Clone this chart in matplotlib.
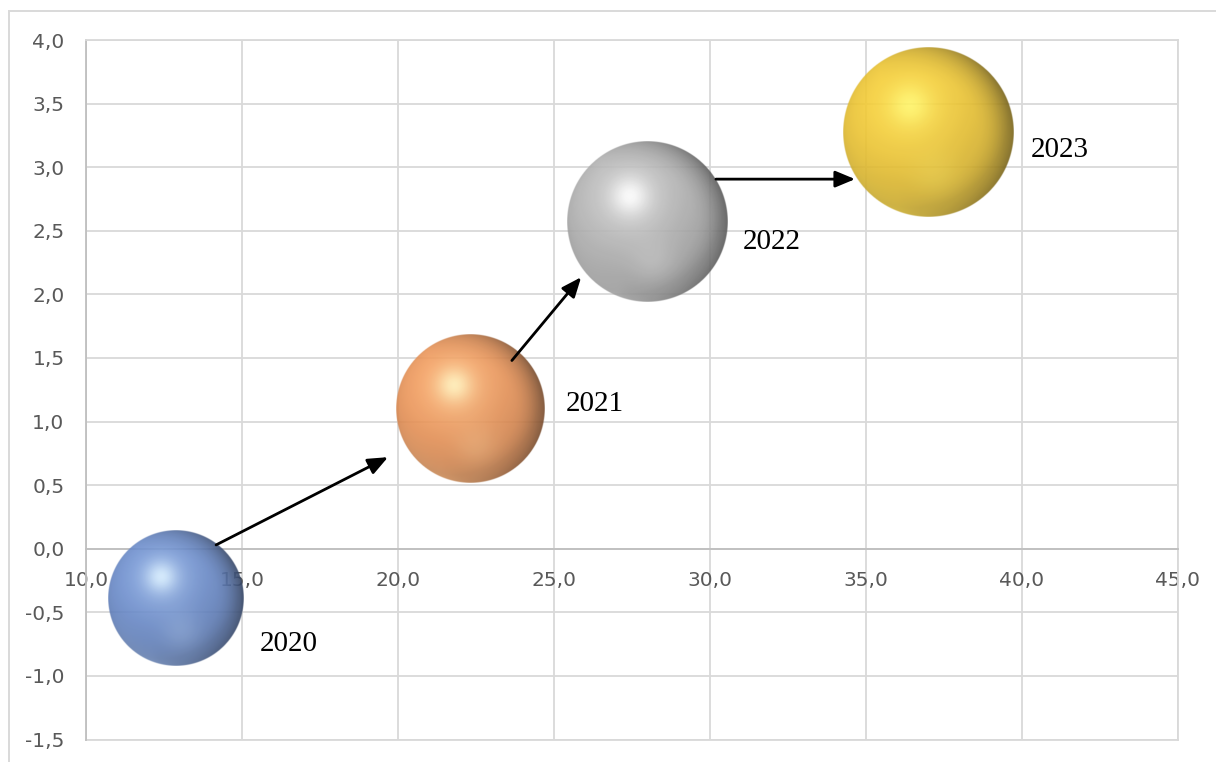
import numpy as np
import matplotlib
matplotlib.use("Agg")
import matplotlib.pyplot as plt
from matplotlib.patches import Rectangle, FancyArrowPatch
from matplotlib.ticker import FuncFormatter, MultipleLocator

# ---- data ----
years = ["2020", "2021", "2022", "2023"]
x_vals = [12.9, 22.3, 28.0, 37.0]
y_vals = [-0.39, 1.10, 2.57, 3.28]
bubble_size = [64, 76, 89, 100]

# arrows (annotation shapes, data coords)
arrow_from = [(14.17, 0.03), (23.65, 1.48), (30.19, 2.906)]
arrow_to = [(19.68, 0.72), (25.87, 2.135), (34.65, 2.906)]

# ---- style ----
base_colors = [(106, 140, 206), (240, 150, 88), (180, 180, 180), (242, 200, 50)]
hi_colors = [(215, 238, 255), (255, 240, 185), (255, 255, 255), (255, 246, 105)]
label_offsets = [(83, -53), (96, -2), (95, -27), (102, -25)]  # pixels
max_radius_px = 85

W, H = 1216, 762
fig = plt.figure(figsize=(W / 100, H / 100), dpi=100)
ax = fig.add_axes([86 / W, 1 - 739.5 / H, (1178 - 86) / W, (739.5 - 40) / H])
ax.set_xlim(10, 45)
ax.set_ylim(-1.5, 4.0)

grid_c = "#d9d9d9"
axis_c = "#bfbfbf"
ax.set_axisbelow(True)
ax.xaxis.set_major_locator(MultipleLocator(5))
ax.yaxis.set_major_locator(MultipleLocator(0.5))
fmt = FuncFormatter(lambda v, p: f"{v:.1f}".replace(".", ","))
ax.xaxis.set_major_formatter(fmt)
ax.yaxis.set_major_formatter(fmt)
ax.grid(True, color=grid_c, lw=1.3)
ax.tick_params(length=0, labelsize=14.5, labelcolor="#595959")
ax.tick_params(axis="y", pad=15.5)
ax.tick_params(axis="x", pad=16)
for s in ["top", "right"]:
    ax.spines[s].set_color(grid_c)
    ax.spines[s].set_linewidth(1.3)
ax.spines["left"].set_color(axis_c)
ax.spines["left"].set_linewidth(1.3)
ax.spines["bottom"].set_position(("data", 0))
ax.spines["bottom"].set_color(axis_c)
ax.spines["bottom"].set_linewidth(1.3)
ax.axhline(-1.5, color=grid_c, lw=1.3, clip_on=False, zorder=0.6)
for lbl in ax.get_xticklabels() + ax.get_yticklabels():
    lbl.set_fontfamily("DejaVu Sans")

# outer chart border
fig.add_artist(Rectangle((9 / W, -0.1), 2, 1 - 10.5 / H + 0.1, transform=fig.transFigure,
                         fill=False, edgecolor=grid_c, lw=1.4))


def sphere_image(n, base, hi):
    u = np.linspace(-1, 1, n)
    U, V = np.meshgrid(u, -u)
    D2 = U ** 2 + V ** 2
    D = np.sqrt(D2)
    Z = np.sqrt(np.clip(1 - D2, 0, 1))
    L1 = np.array([-0.35, 0.45, 0.82]); L1 /= np.linalg.norm(L1)
    d1 = np.clip(U * L1[0] + V * L1[1] + Z * L1[2], 0, 1)
    shade = 0.8 + 0.22 * d1
    rim = np.clip((D - 0.55) / 0.45, 0, 1) ** 2
    shade = shade * (1 - 0.38 * rim * np.clip(0.35 + 0.75 * U + 0.1 * V, 0, 1))
    spec = (0.62 * np.exp(-((U + 0.22) ** 2 + (V - 0.32) ** 2) / (2 * 0.16 ** 2))
            + 0.3 * np.exp(-((U + 0.2) ** 2 + (V - 0.28) ** 2) / (2 * 0.32 ** 2))
            + 0.16 * np.exp(-((U - 0.08) ** 2 + (V + 0.5) ** 2) / (2 * 0.2 ** 2))
            + 0.22 * rim * np.clip(-V - 0.2, 0, 1) * np.clip(0.6 - U, 0, 1))
    spec = np.clip(spec, 0, 1)
    b = np.array(base) / 255.0
    h = np.array(hi) / 255.0
    col = np.clip(b[None, None, :] * shade[..., None], 0, 1)
    col = col * (1 - spec[..., None]) + h[None, None, :] * spec[..., None]
    alpha = np.clip((1 - D) * n / 2 + 0.5, 0, 1) * 0.9
    return np.dstack([np.clip(col, 0, 1), alpha])


smax = max(bubble_size)
inv = ax.transData.inverted()
for i, (x, y, s) in enumerate(zip(x_vals, y_vals, bubble_size)):
    r = max_radius_px * np.sqrt(s / smax)
    cx, cy = ax.transData.transform((x, y))
    x0, y0 = inv.transform((cx - r, cy - r))
    x1, y1 = inv.transform((cx + r, cy + r))
    n = int(2 * r * 2)
    img = sphere_image(n, base_colors[i], hi_colors[i])
    ax.imshow(img, extent=[x0, x1, y0, y1], origin="upper", aspect="auto",
              interpolation="bilinear", zorder=3, clip_on=False)
    ax.annotate(years[i], (x, y), xytext=label_offsets[i], textcoords="offset pixels",
                ha="left", va="baseline", fontsize=21, family="Liberation Serif",
                color="black", zorder=5)

for (xa, ya), (xb, yb) in zip(arrow_from, arrow_to):
    ax.add_patch(FancyArrowPatch((xa, ya), (xb, yb),
                                 arrowstyle="-|>,head_length=1.2,head_width=0.5",
                                 mutation_scale=10, lw=2.0, color="black",
                                 shrinkA=0, shrinkB=0, zorder=4))

ax.set_xlim(10, 45)
ax.set_ylim(-1.5, 4.0)
fig.savefig("out.png", dpi=100)
